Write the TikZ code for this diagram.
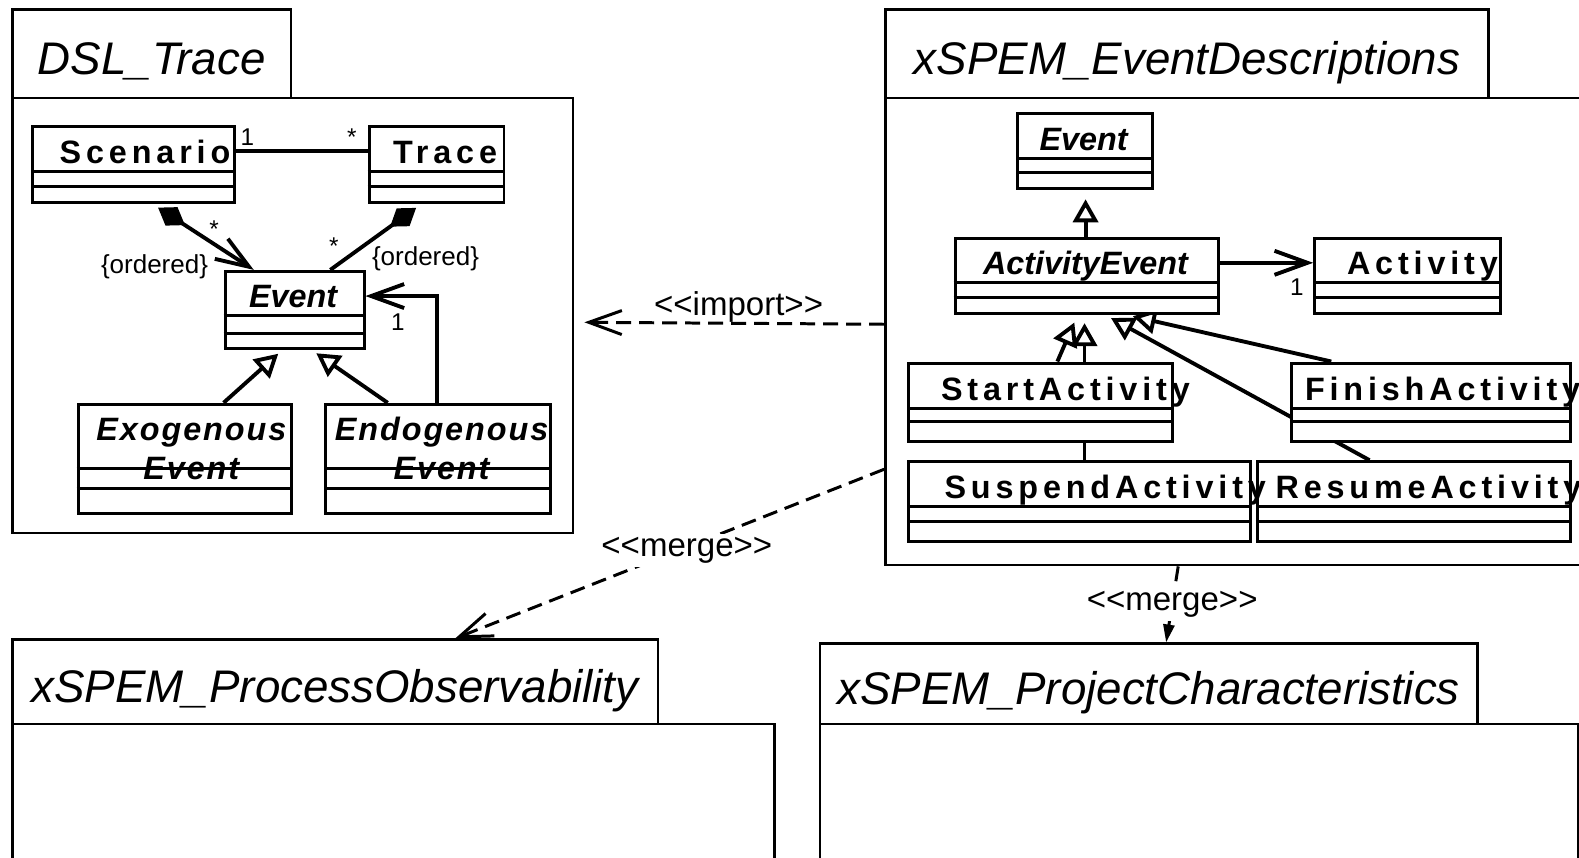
\documentclass[tikz,border=0pt]{standalone}
\usepackage{fontspec}
\setmainfont{Liberation Sans}
\usetikzlibrary{arrows.meta,calc,backgrounds}

\newcommand{\pxu}{0.1007mm}
\tikzset{
    pkgbox/.style = {draw, rectangle, line width=0.7pt, inner sep=0pt, anchor=north west},
    pkgtitle/.style = {font=\itshape\fontsize{13pt}{15pt}\selectfont,
        text height=15.6pt, text depth=3.9pt},
    classbox/.style = {draw, fill=white, rectangle, line width=0.85pt, inner sep=0pt, anchor=north west},
    classline/.style = {line width=0.85pt},
    classname/.style = {font=\bfseries\fontsize{9.2pt}{10.6pt}\selectfont\addfontfeature{LetterSpace=15}, inner sep=0pt},
    abstractname/.style = {font=\bfseries\itshape\fontsize{9.2pt}{10.6pt}\selectfont, inner sep=0pt, align=center},
    exofont/.style = {font=\bfseries\itshape\fontsize{9.2pt}{11.1pt}\selectfont\addfontfeature{LetterSpace=6}},
    assoc/.style = {draw, line width=1.1pt},
    navig/.style = {assoc, -{Straight Barb[length=3.3mm,width=2.4mm]}},
    gener/.style = {assoc, -{Triangle[open,length=2.3mm,width=2.5mm]}},
    compos/.style = {assoc, {Diamond[length=3.2mm,width=2.2mm]}-},
    compnav/.style = {assoc, {Diamond[length=3.2mm,width=2.2mm]}-{Straight Barb[length=3.3mm,width=2.4mm]}},
    dep/.style = {draw, line width=0.85pt, dash pattern=on 1.5mm off 0.8mm, -{Straight Barb[length=3.3mm,width=2.4mm]}},
    mult/.style = {font=\fontsize{6.9pt}{8pt}\selectfont, inner sep=1pt},
    constr/.style = {font=\fontsize{7.4pt}{9pt}\selectfont, inner sep=1pt},
    stereo/.style = {font=\fontsize{9.4pt}{11pt}\selectfont, fill=white, inner sep=1pt}
}

% class box: [label opts]{name}{left}{top}{right}{bottom}{line 1}{line 2}{text}
\newcommand{\umlclass}[9][]{%
    \node[classbox, minimum width={(#5-#3)*\pxu}, minimum height={(#6-#4)*\pxu}] (#2) at (#3,#4) {};
    \draw[classline] (#3,#7) -- (#5,#7);
    \draw[classline] (#3,#8) -- (#5,#8);
    \node[classname, anchor=base, #1] (#2-name) at ({(#3+#5)/2},{#7-8}) {#9};
}

\begin{document}
\begin{tikzpicture}[x=\pxu, y=-\pxu]
    \path[use as bounding box, clip] (0,0) rectangle (1568,852);

    % packages
    \node[pkgbox, pkgtitle, minimum width={277*\pxu}, minimum height={88*\pxu}] (dsltab) at (11,8) {DSL\_Trace};
    \node[pkgbox, minimum width={557*\pxu}, minimum height={432*\pxu}] (dslbody) at (11,96) {};
    \node[pkgbox, pkgtitle, minimum width={599*\pxu}, minimum height={88*\pxu}] (edtab) at (878,8) {xSPEM\_EventDescriptions};
    \node[pkgbox, minimum width={702*\pxu}, minimum height={464*\pxu}] (edbody) at (878,96) {};
    \node[pkgbox, pkgtitle, minimum width={641*\pxu}, minimum height={84*\pxu}] (pobtab) at (11,634) {xSPEM\_ProcessObservability};
    \node[pkgbox, minimum width={757*\pxu}, minimum height={160*\pxu}] (pobbody) at (11,718) {};
    \node[pkgbox, pkgtitle, minimum width={653*\pxu}, minimum height={80*\pxu}] (pctab) at (813,638) {xSPEM\_ProjectCharacteristics};
    \node[pkgbox, minimum width={753*\pxu}, minimum height={160*\pxu}] (pcbody) at (813,718) {};

    % DSL_Trace classes
    \umlclass[xshift=13*\pxu]{scenario}{31}{124}{231}{200}{170}{185}{Scenario}
    \umlclass[xshift=10*\pxu]{trace}{365}{124}{499}{200}{170}{185}{Trace}
    \umlclass[abstractname]{event}{222}{268}{360}{345}{313}{331}{Event}
    \umlclass[abstractname, exofont, xshift=8*\pxu, yshift=-19*\pxu]{exo}{76}{400}{288}{508}{465}{485}{Exogenous\\Event}
    \umlclass[abstractname, exofont, xshift=5*\pxu, yshift=-19*\pxu]{endo}{322}{400}{545}{508}{465}{485}{Endogenous\\Event}

    % xSPEM_EventDescriptions classes
    \umlclass[abstractname]{eventR}{1009}{111}{1143}{186}{157}{171}{Event}
    \umlclass[abstractname]{actevent}{947}{235}{1209}{310}{281}{295}{ActivityEvent}
    \umlclass[xshift=16*\pxu]{activity}{1304}{235}{1489}{310}{281}{295}{Activity}
    \umlclass[xshift=26*\pxu]{start}{901}{359}{1163}{437}{406}{419}{StartActivity}
    \umlclass[xshift=13*\pxu]{finish}{1281}{359}{1558}{437}{406}{419}{FinishActivity}
    \umlclass[xshift=16*\pxu]{resume}{1247}{457}{1558}{536}{503}{518}{ResumeActivity}
    \umlclass[xshift=27*\pxu]{suspend}{901}{457}{1240}{536}{503}{518}{SuspendActivity}

    \begin{scope}[on background layer]
    % associations in DSL_Trace
    \draw[assoc] (scenario.east |- 0,150) -- (trace.west |- 0,150)
        node[mult, pos=0.09, anchor=south] {1}
        node[mult, pos=0.88, anchor=south] {*};
    \draw[compnav, shorten <=0.6mm] (scenario.south -| 152,0) -- (event.north -| 252,0)
        node[mult, pos=0.54, anchor=south west, inner sep=0pt] {*}
        node[constr, pos=1, anchor=east, xshift=-40*\pxu, yshift=3*\pxu] {\{ordered\}};
    \draw[compos, shorten <=0.6mm] (trace.south -| 418,0) -- (event.north -| 328,0)
        node[mult, pos=0.85, anchor=south east] {*}
        node[constr, pos=1, anchor=west, xshift=36*\pxu, yshift=11*\pxu] {\{ordered\}};
    \draw[gener, shorten >=0.5mm] (exo.north -| 222,0) -- (event.south -| 280,0);
    \draw[gener, shorten >=0.5mm] (endo.north -| 385,0) -- (event.south -| 310,0);
    \draw[navig] (endo.north -| 434,0) |- (event.east |- 0,294)
        node[mult, pos=1, anchor=north west, xshift=20*\pxu, yshift=-12*\pxu] {1};

    % associations in xSPEM_EventDescriptions
    \draw[gener, shorten >=0.9mm] (actevent.north -| 1078,0) -- (eventR.south -| 1078,0);
    \draw[navig] (actevent.east |- 0,261) -- (activity.west |- 0,261)
        node[mult, pos=1, anchor=north east, xshift=-4*\pxu, yshift=-10*\pxu] {1};
    \draw[gener, shorten >=0.8mm] (start.north -| 1050,0) -- (actevent.south -| 1070,0);
    \draw[gener, shorten >=0.8mm] (suspend.north -| 1077,0) -- (actevent.south -| 1077,0);
    \draw[gener, shorten >=0.5mm] (finish.north -| 1322,0) -- (actevent.south -| 1120,0);
    \draw[gener, shorten >=0.6mm] (resume.north -| 1360,0) -- (actevent.south -| 1098,0);

    % package dependencies
    \draw[dep, shorten >=1mm] (edbody.west |- 0,322) -- (dslbody.east |- 0,320)
        node[stereo, fill=none, pos=0.47, yshift=16*\pxu] {<\kern0pt<import>\kern0pt>};
    \draw[dep] (edbody.west |- 0,466) -- (pobtab.north -| 452,0)
        node[stereo, pos=0.46, yshift=-3*\pxu] {<\kern0pt<merge>\kern0pt>};
    \draw[dep, -{Triangle[length=1.8mm,width=1.1mm]}] (edbody.south -| 1170,0) -- (pctab.north -| 1158,0)
        node[stereo, pos=0.5] {<\kern0pt<merge>\kern0pt>};
    \end{scope}
\end{tikzpicture}
\end{document}
